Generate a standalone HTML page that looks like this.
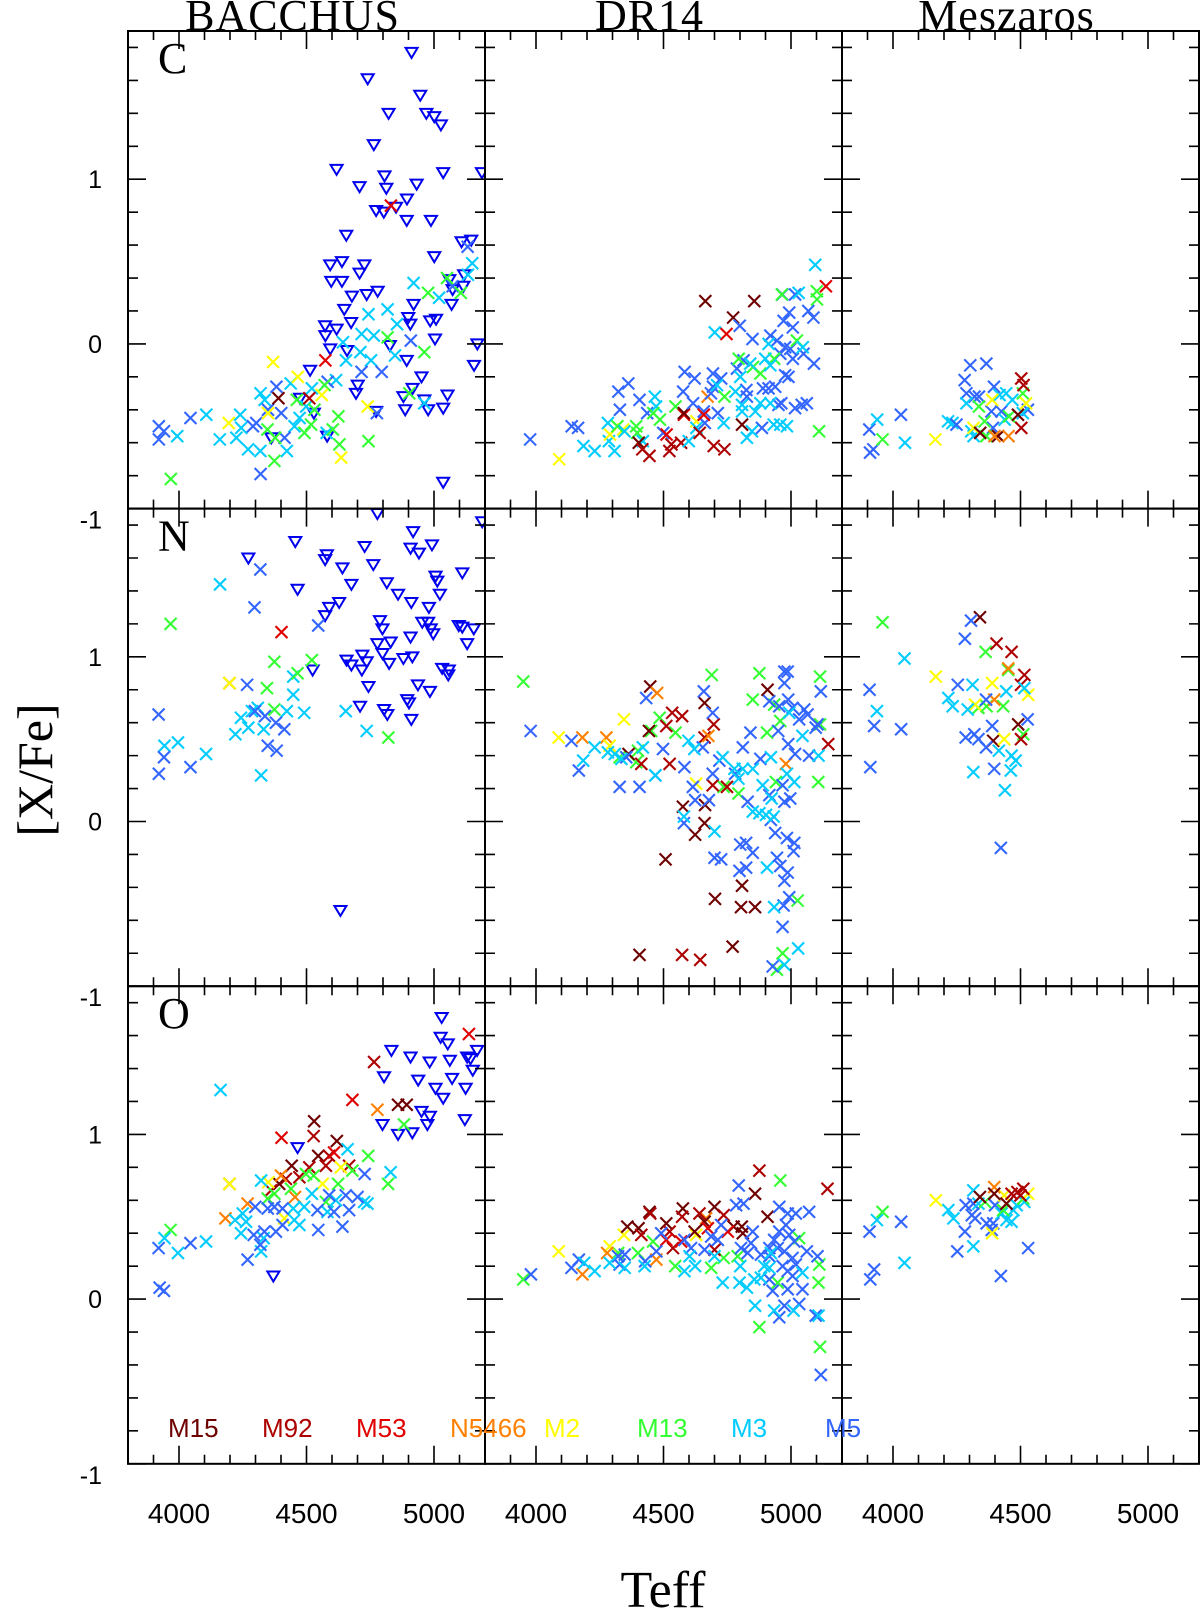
<!DOCTYPE html>
<html><head><meta charset="utf-8"><style>
html,body{margin:0;padding:0;background:#fff;}
svg{display:block;}
</style></head><body>
<svg id="fig" width="1200" height="1610" viewBox="0 0 1200 1610" xmlns="http://www.w3.org/2000/svg"></svg>
<script>
// ---- data (Teff, [X/Fe], cluster) ----
const clusters = ['M15','M92','M53','N5466','M2','M13','M3','M5'];
const clusterColors = ['#6e0000','#ad0000','#e00000','#ff8000','#ffff00','#33ff33','#00ccff','#3366ff'];
const xTicks = [4000,4500,5000];
const yTicks = [-1,0,1];
const rowNames = ['C','N','O'];
const colNames = ['BACCHUS','DR14','Meszaros'];

const limC_bac = [[4912,1.77],[4740,1.61],[4946,1.51],[4822,1.40],[4970,1.40],[5001,1.38],[5027,1.33],[4764,1.21],[4618,1.06],[5036,1.04],[4708,0.955],[4806,1.02],[4813,0.945],[4932,0.97],[4894,0.88],[4851,0.83],[4773,0.81],[4803,0.80],[4893,0.75],[4988,0.75],[4656,0.66],[5108,0.62],[5146,0.63],[5001,0.53],[4593,0.48],[4639,0.50],[4727,0.48],[4708,0.43],[4597,0.38],[4639,0.38],[4678,0.29],[4736,0.30],[4779,0.32],[5060,0.39],[5118,0.42],[5073,0.33],[5115,0.35],[5069,0.24],[4920,0.24],[4648,0.21],[4675,0.13],[4899,0.16],[4907,0.12],[4985,0.14],[5008,0.15],[4573,0.11],[4618,0.09],[4574,0.05],[5004,0.03],[4593,-0.03],[4659,-0.04],[4827,-0.01],[4893,-0.10],[4514,-0.16],[4951,-0.20],[4701,-0.25],[4916,-0.27],[4694,-0.30],[4880,-0.32],[5053,-0.31],[4962,-0.34],[4475,-0.33],[4887,-0.40],[4773,-0.41],[4977,-0.40],[5036,-0.39],[4529,-0.42],[4362,-0.57],[4581,-0.56],[5036,-0.84],[5157,-0.13],[5188,1.04],[5170,0.0]];
const ptsC_bac = [[4920,0.37,'M3'],[4743,0.18,'M3'],[4818,0.21,'M3'],[4855,0.12,'M3'],[4716,0.06,'M3'],[4764,0.05,'M3'],[4711,-0.05,'M3'],[4753,-0.10,'M3'],[4847,-0.07,'M3'],[4655,-0.10,'M3'],[4616,-0.22,'M3'],[4521,-0.27,'M3'],[4438,-0.24,'M3'],[4320,-0.30,'M3'],[4336,-0.34,'M3'],[4107,-0.43,'M3'],[4240,-0.43,'M3'],[4160,-0.58,'M3'],[3993,-0.56,'M3'],[4225,-0.57,'M3'],[4271,-0.64,'M3'],[4319,-0.65,'M3'],[4423,-0.65,'M3'],[4453,-0.50,'M3'],[4473,-0.45,'M3'],[4499,-0.38,'M3'],[4579,-0.54,'M3'],[5020,0.28,'M3'],[4643,0.01,'M3'],[4962,-0.36,'M3'],[4244,-0.51,'M3'],[5150,0.49,'M3'],[5133,0.42,'M3'],
[3921,-0.50,'M5'],[3941,-0.53,'M5'],[3921,-0.58,'M5'],[4045,-0.45,'M5'],[4382,-0.26,'M5'],[4349,-0.40,'M5'],[4401,-0.42,'M5'],[4290,-0.50,'M5'],[4303,-0.48,'M5'],[4414,-0.57,'M5'],[4320,-0.79,'M5'],[4583,-0.23,'M5'],[4716,-0.17,'M5'],[4795,-0.17,'M5'],[4909,0.02,'M5'],[5132,0.59,'M5'],[5073,0.35,'M5'],[4776,-0.42,'M5'],
[3968,-0.82,'M13'],[4374,-0.71,'M13'],[4377,-0.57,'M13'],[4492,-0.54,'M13'],[4518,-0.49,'M13'],[4531,-0.40,'M13'],[4462,-0.34,'M13'],[4571,-0.25,'M13'],[4625,-0.44,'M13'],[4629,-0.61,'M13'],[4603,-0.52,'M13'],[4743,-0.59,'M13'],[4818,0.04,'M13'],[4962,-0.05,'M13'],[4977,0.31,'M13'],[5105,0.31,'M13'],[4903,-0.30,'M13'],[4347,-0.52,'M13'],[5051,0.40,'M13'],
[4369,-0.11,'M2'],[4466,-0.20,'M2'],[4560,-0.31,'M2'],[4195,-0.48,'M2'],[4349,-0.42,'M2'],[4740,-0.38,'M2'],[4636,-0.69,'M2'],
[4390,-0.33,'M15'],[4511,-0.33,'M92'],[4574,-0.10,'M53'],[4831,0.84,'M53']];

const ptsC_dr = [[3977,-0.58,'M5'],[4091,-0.70,'M2'],[4140,-0.50,'M5'],[4165,-0.51,'M5'],[4186,-0.62,'M3'],[4230,-0.65,'M3'],[4282,-0.48,'M3'],[4286,-0.59,'M3'],[4308,-0.65,'M3'],[4290,-0.55,'M2'],[4342,-0.52,'M2'],[4319,-0.50,'M13'],[4393,-0.50,'M13'],[4397,-0.54,'M13'],[4347,-0.53,'M3'],[4323,-0.29,'M5'],[4362,-0.24,'M5'],[4329,-0.40,'M5'],[4406,-0.34,'M5'],[4436,-0.42,'M5'],[4419,-0.59,'M3'],[4466,-0.32,'M3'],[4471,-0.38,'M3'],[4403,-0.60,'M15'],[4417,-0.64,'M92'],[4445,-0.68,'M92'],[4460,-0.42,'M13'],[4486,-0.46,'M13'],[4547,-0.38,'M13'],[4499,-0.54,'M5'],[4512,-0.55,'M53'],[4531,-0.61,'M92'],[4523,-0.65,'M92'],[4569,-0.60,'M92'],[4580,-0.43,'M53'],[4580,-0.42,'M15'],[4599,-0.59,'M3'],[4583,-0.17,'M5'],[4622,-0.21,'M5'],[4577,-0.29,'M5'],[4616,-0.36,'M5'],[4629,-0.47,'M2'],[4629,-0.51,'M3'],[4642,-0.54,'M92'],[4662,-0.48,'M5'],[4658,-0.41,'M5'],[4658,-0.43,'M53'],[4673,-0.32,'N5466'],[4686,-0.30,'M5'],[4694,-0.18,'M5'],[4726,-0.21,'M5'],[4694,-0.26,'M5'],[4713,-0.42,'M5'],[4739,-0.32,'M13'],[4710,-0.25,'M3'],[4736,-0.48,'M3'],[4697,-0.62,'M92'],[4739,-0.64,'M92'],[4664,0.26,'M15'],[4856,0.26,'M15'],[4773,0.16,'M15'],[4808,-0.49,'M15'],[4747,0.06,'M53'],[4701,0.07,'M3'],[4799,0.11,'M5'],[4849,0.03,'M5'],
[4966,0.30,'M5'],[5016,0.30,'M5'],[5030,0.31,'M3'],[4993,0.19,'M5'],[4971,0.14,'M5'],[5007,0.10,'M5'],[4919,0.05,'M5'],[4945,0.02,'M5'],[4977,-0.02,'M5'],[4997,-0.03,'M5'],[4958,-0.06,'M5'],[5007,-0.09,'M5'],[5049,-0.06,'M5'],[5068,0.20,'M5'],[5088,0.16,'M5'],[4788,-0.15,'M5'],[4814,-0.10,'M5'],[4827,-0.32,'M5'],[4825,-0.28,'M5'],[4890,-0.27,'M5'],[4912,-0.27,'M5'],[4938,-0.26,'M5'],[4977,-0.19,'M5'],[4990,-0.20,'M5'],[4962,-0.36,'M5'],[4951,-0.37,'M5'],[5016,-0.39,'M5'],[5042,-0.37,'M5'],[5062,-0.36,'M5'],[4886,-0.51,'M5'],[5090,-0.12,'M5'],
[4964,0.30,'M13'],[5023,0.02,'M13'],[4795,-0.09,'M13'],[4851,-0.14,'M13'],[4880,-0.18,'M13'],[4934,-0.09,'M13'],[5101,0.32,'M13'],[5102,0.27,'M13'],[5110,-0.53,'M13'],
[4912,0.00,'M3'],[4899,-0.09,'M3'],[4840,-0.12,'M3'],[4801,-0.20,'M3'],[4782,-0.29,'M3'],[4808,-0.37,'M3'],[4808,-0.41,'M3'],[4860,-0.41,'M3'],[4880,-0.36,'M3'],[4919,-0.36,'M3'],[4932,-0.49,'M3'],[4958,-0.49,'M3'],[4984,-0.50,'M3'],[4847,-0.53,'M3'],[4827,-0.57,'M3'],[5095,0.48,'M3'],[5046,-0.02,'M3'],[4919,-0.13,'M3'],[5137,0.35,'M53']];

const ptsC_mes = [[3907,-0.52,'M5'],[3910,-0.66,'M5'],[3923,-0.64,'M5'],[3938,-0.46,'M3'],[4047,-0.60,'M3'],[3959,-0.58,'M13'],[4031,-0.43,'M5'],[4166,-0.58,'M2'],[4216,-0.47,'M3'],[4233,-0.48,'M3'],[4249,-0.49,'M5'],[4303,-0.13,'M5'],[4366,-0.12,'M5'],[4281,-0.22,'M5'],[4288,-0.30,'M5'],[4320,-0.32,'M5'],[4337,-0.32,'M5'],[4396,-0.26,'M5'],[4386,-0.41,'M5'],[4425,-0.41,'M5'],[4392,-0.51,'M5'],[4529,-0.40,'M5'],[4288,-0.36,'M3'],[4307,-0.53,'M3'],[4316,-0.56,'M3'],[4418,-0.31,'M3'],[4444,-0.30,'M3'],[4468,-0.34,'M3'],[4438,-0.46,'M3'],[4509,-0.42,'M3'],[4337,-0.38,'M13'],[4359,-0.47,'M13'],[4366,-0.56,'M13'],[4509,-0.30,'M13'],[4455,-0.44,'M13'],[4389,-0.34,'M2'],[4522,-0.36,'M2'],[4316,-0.51,'M2'],[4342,-0.54,'M15'],[4412,-0.56,'M15'],[4490,-0.43,'M15'],[4503,-0.21,'M92'],[4503,-0.51,'M92'],[4512,-0.25,'M92'],[4398,-0.56,'N5466'],[4453,-0.56,'N5466']];

const limN_bac = [[4778,1.87],[5189,1.82],[4918,1.76],[4456,1.70],[4728,1.67],[4908,1.66],[4941,1.63],[4992,1.68],[4272,1.60],[4580,1.62],[4573,1.59],[4641,1.54],[4762,1.56],[5111,1.51],[5006,1.49],[5013,1.46],[4465,1.41],[4676,1.44],[4815,1.45],[4859,1.38],[5023,1.38],[4911,1.33],[4628,1.33],[4589,1.30],[4980,1.30],[4573,1.25],[4788,1.22],[4798,1.17],[4954,1.21],[4977,1.21],[4987,1.17],[4997,1.14],[5097,1.19],[5111,1.18],[5156,1.17],[5130,1.08],[4778,1.08],[4830,1.09],[4908,1.12],[4657,0.98],[4676,0.95],[4719,1.01],[4736,0.97],[4717,0.92],[4798,1.02],[4824,0.96],[4880,0.99],[4915,1.00],[4524,0.92],[5032,0.93],[5058,0.92],[5056,0.89],[4937,0.83],[4984,0.79],[4743,0.82],[4895,0.74],[4902,0.72],[4710,0.70],[4804,0.68],[4817,0.65],[4911,0.62],[4633,-0.54]];
const ptsN_bac = [[4161,1.44,'M3'],[4448,0.88,'M3'],[4448,0.77,'M3'],[4491,0.66,'M3'],[4423,0.67,'M3'],[4243,0.63,'M3'],[4272,0.57,'M3'],[4309,0.69,'M3'],[4332,0.56,'M3'],[4221,0.53,'M3'],[4654,0.67,'M3'],[4736,0.55,'M3'],[3943,0.46,'M3'],[3996,0.48,'M3'],[4106,0.41,'M3'],[4322,0.28,'M3'],[4286,0.67,'M3'],
[4319,1.53,'M5'],[4296,1.30,'M5'],[4546,1.19,'M5'],[4267,0.83,'M5'],[3920,0.65,'M5'],[4337,0.64,'M5'],[4380,0.60,'M5'],[4413,0.56,'M5'],[4348,0.46,'M5'],[4383,0.43,'M5'],[3941,0.39,'M5'],[3921,0.29,'M5'],[4045,0.33,'M5'],[4298,0.67,'M5'],
[3967,1.20,'M13'],[4374,0.97,'M13'],[4521,0.98,'M13'],[4465,0.90,'M13'],[4345,0.81,'M13'],[4374,0.68,'M13'],[4821,0.51,'M13'],
[4402,1.15,'M53'],[4198,0.84,'M92'],[4198,0.84,'M2']];

const ptsN_dr = [[3950,0.85,'M13'],[4689,0.89,'M13'],[4876,0.90,'M13'],[5114,0.88,'M13'],[4485,0.63,'M13'],[4452,0.55,'M13'],[4547,0.54,'M13'],[4400,0.43,'M13'],[4393,0.36,'M13'],[4850,0.74,'M13'],[4906,0.54,'M13'],[4958,0.61,'M13'],[5114,0.59,'M13'],[5107,0.24,'M13'],[4736,0.21,'M13'],[4794,0.17,'M13'],[4941,0.24,'M13'],[5026,-0.48,'M13'],[4967,-0.80,'M13'],[4945,-0.90,'M13'],[4934,0.71,'M13'],[4328,0.39,'M13'],
[4448,0.82,'M15'],[4661,0.72,'M15'],[4908,0.80,'M15'],[4443,0.55,'M15'],[4363,0.41,'M15'],[4576,0.09,'M15'],[4663,0.10,'M15'],[4661,-0.01,'M15'],[4624,-0.08,'M15'],[4508,-0.23,'M15'],[4808,-0.39,'M15'],[4702,-0.47,'M15'],[4804,-0.52,'M15'],[4859,-0.52,'M15'],[4771,-0.76,'M15'],[4406,-0.81,'M15'],[5146,0.47,'M92'],
[4534,0.66,'M92'],[4573,0.64,'M92'],[4511,0.58,'M92'],[4697,0.59,'M92'],[4661,0.51,'M92'],[4413,0.35,'M92'],[4524,0.35,'M92'],[4693,0.22,'M92'],[4749,0.21,'M92'],[4573,-0.81,'M92'],[4644,-0.84,'M92'],
[4475,0.78,'N5466'],[4182,0.51,'N5466'],[4276,0.51,'N5466'],[4676,0.52,'N5466'],[4980,0.35,'N5466'],
[4345,0.62,'M2'],[4089,0.51,'M2'],[4289,0.46,'M2'],[4628,0.23,'M2'],
[3979,0.55,'M5'],[4139,0.49,'M5'],[4168,0.31,'M5'],[4328,0.21,'M5'],[4406,0.21,'M5'],[4432,0.75,'M5'],[4498,0.44,'M5'],[4354,0.39,'M5'],[4468,0.28,'M5'],[4582,0.33,'M5'],[4658,0.79,'M5'],[4693,0.66,'M5'],[4654,0.45,'M5'],[4719,0.37,'M5'],[4693,0.29,'M5'],[4615,0.21,'M5'],[4624,0.13,'M5'],[4678,0.13,'M5'],[4580,-0.01,'M5'],[4811,0.45,'M5'],[4841,0.54,'M5'],[4880,0.38,'M5'],[4781,0.29,'M5'],[4830,0.12,'M5'],[4915,0.16,'M5'],[4967,0.22,'M5'],[4974,0.12,'M5'],[4997,0.14,'M5'],[4921,0.01,'M5'],[4938,-0.07,'M5'],[4984,-0.10,'M5'],[5013,-0.13,'M5'],[5010,-0.18,'M5'],[4801,-0.14,'M5'],[4824,-0.13,'M5'],[4850,-0.19,'M5'],[4700,-0.22,'M5'],[4726,-0.23,'M5'],[4798,-0.30,'M5'],[4824,-0.28,'M5'],[4945,-0.22,'M5'],[4958,-0.27,'M5'],[4987,-0.31,'M5'],[4974,-0.36,'M5'],[4993,-0.46,'M5'],[4971,-0.51,'M5'],[4967,-0.64,'M5'],[4928,-0.88,'M5'],[4974,0.91,'M5'],[4987,0.91,'M5'],[4974,0.84,'M5'],[4915,0.73,'M5'],[4954,0.70,'M5'],[4989,0.74,'M5'],[5006,0.69,'M5'],[5052,0.68,'M5'],[5032,0.62,'M5'],[5065,0.65,'M5'],[4950,0.55,'M5'],[4989,0.47,'M5'],[5016,0.41,'M5'],[5071,0.40,'M5'],[5097,0.57,'M5'],[5117,0.79,'M5'],[5104,0.59,'M5'],
[4598,0.49,'M3'],[4621,0.44,'M3'],[4419,0.45,'M3'],[4230,0.45,'M3'],[4185,0.37,'M3'],[4282,0.42,'M3'],[4309,0.41,'M3'],[4335,0.38,'M3'],[4468,0.28,'M3'],[4732,0.39,'M3'],[4778,0.32,'M3'],[4811,0.32,'M3'],[4850,0.32,'M3'],[4794,0.26,'M3'],[4889,0.22,'M3'],[4921,0.39,'M3'],[4924,0.14,'M3'],[4850,0.06,'M3'],[4876,0.05,'M3'],[4902,0.04,'M3'],[4932,0.03,'M3'],[4580,0.03,'M3'],[4700,-0.06,'M3'],[5045,0.52,'M3'],[5108,0.40,'M3'],[5013,0.24,'M3'],[4984,0.29,'M3'],[4993,0.66,'M3'],[4906,-0.28,'M3'],[4934,-0.52,'M3'],[5028,-0.77,'M3'],[4974,-0.87,'M3']];

const ptsN_mes = [[3959,1.21,'M13'],[4363,1.03,'M13'],[4452,0.92,'M13'],[4335,0.69,'M13'],[4367,0.70,'M13'],[4432,0.70,'M13'],[4511,0.53,'M13'],[4341,1.24,'M15'],[4491,0.59,'M15'],[4393,0.49,'M15'],[4406,1.08,'M92'],[4465,1.03,'M92'],[4515,0.89,'M92'],[4502,0.83,'M92'],[4502,0.50,'M92'],[4452,0.93,'N5466'],[4397,0.74,'N5466'],[4168,0.88,'M2'],[4389,0.84,'M2'],[4530,0.77,'M2'],[4322,0.71,'M2'],[4436,0.50,'M2'],
[4306,1.22,'M5'],[4282,1.11,'M5'],[3908,0.80,'M5'],[3926,0.58,'M5'],[4032,0.56,'M5'],[3911,0.33,'M5'],[4254,0.83,'M5'],[4365,0.74,'M5'],[4389,0.58,'M5'],[4285,0.51,'M5'],[4319,0.53,'M5'],[4335,0.50,'M5'],[4365,0.45,'M5'],[4528,0.62,'M5'],[4397,0.32,'M5'],[4423,-0.16,'M5'],
[4045,0.99,'M3'],[3937,0.67,'M3'],[4217,0.75,'M3'],[4234,0.70,'M3'],[4293,0.68,'M3'],[4312,0.83,'M3'],[4444,0.79,'M3'],[4515,0.81,'M3'],[4415,0.43,'M3'],[4465,0.40,'M3'],[4481,0.37,'M3'],[4462,0.31,'M3'],[4315,0.30,'M3'],[4439,0.19,'M3']];

const limO_bac = [[5030,1.71],[5026,1.59],[5054,1.55],[4833,1.51],[4908,1.47],[4983,1.44],[5062,1.45],[5130,1.47],[5143,1.46],[5169,1.51],[5152,1.39],[4804,1.35],[4938,1.33],[5071,1.34],[5006,1.28],[5124,1.28],[5036,1.22],[4951,1.14],[4984,1.11],[4974,1.06],[5121,1.09],[4798,1.06],[4859,1.00],[4915,1.01],[4465,0.92],[4370,0.14]];
const ptsO_bac = [[5137,1.61,'M53'],[4680,1.21,'M53'],[4402,0.98,'M53'],[4765,1.44,'M92'],[4859,1.18,'M15'],[4893,1.18,'M15'],[4530,1.08,'M15'],[4528,0.99,'M92'],[4619,0.96,'M15'],[4546,0.87,'M15'],[4589,0.87,'M92'],[4608,0.89,'M53'],[4442,0.81,'M15'],[4511,0.80,'M92'],[4576,0.81,'M92'],[4667,0.81,'M92'],[4419,0.73,'M92'],[4393,0.70,'M15'],[4361,0.66,'M92'],[4198,0.70,'M92'],[4472,0.74,'M92'],
[4778,1.15,'N5466'],[4400,0.75,'N5466'],[4269,0.58,'N5466'],[4182,0.49,'N5466'],[4455,0.62,'N5466'],
[4198,0.70,'M2'],[4350,0.71,'M2'],[4563,0.70,'M2'],[4635,0.80,'M2'],[4413,0.49,'M2'],
[3967,0.42,'M13'],[4742,0.87,'M13'],[4820,0.70,'M13'],[4882,1.06,'M13'],[4680,0.78,'M13'],[4624,0.70,'M13'],[4528,0.75,'M13'],[4439,0.67,'M13'],[4348,0.61,'M13'],[4374,0.64,'M13'],[4576,0.59,'M13'],[4498,0.76,'M13'],
[4163,1.27,'M3'],[4661,0.91,'M3'],[4830,0.77,'M3'],[4726,0.59,'M3'],[4739,0.58,'M3'],[4322,0.72,'M3'],[4521,0.64,'M3'],[3943,0.37,'M3'],[3996,0.28,'M3'],[4106,0.35,'M3'],[4220,0.48,'M3'],[4250,0.52,'M3'],[4243,0.40,'M3'],[4263,0.47,'M3'],[4322,0.29,'M3'],[4332,0.37,'M3'],[4448,0.55,'M3'],[4472,0.45,'M3'],[4452,0.48,'M3'],[4491,0.56,'M3'],[4582,0.53,'M3'],[4615,0.60,'M3'],
[3920,0.31,'M5'],[3924,0.07,'M5'],[3941,0.05,'M5'],[4045,0.34,'M5'],[4269,0.24,'M5'],[4293,0.39,'M5'],[4319,0.33,'M5'],[4335,0.41,'M5'],[4380,0.41,'M5'],[4406,0.45,'M5'],[4299,0.56,'M5'],[4348,0.55,'M5'],[4374,0.56,'M5'],[4406,0.55,'M5'],[4546,0.42,'M5'],[4543,0.54,'M5'],[4608,0.53,'M5'],[4641,0.44,'M5'],[4667,0.54,'M5'],[4654,0.63,'M5'],[4700,0.62,'M5'],[4728,0.76,'M5'],[4589,0.63,'M5']];

const ptsO_dr = [[3950,0.12,'M13'],[4459,0.35,'M13'],[4322,0.28,'M13'],[4400,0.28,'M13'],[4546,0.20,'M13'],[4687,0.19,'M13'],[4736,0.25,'M13'],[4791,0.26,'M13'],[4958,0.72,'M13'],[5032,0.37,'M13'],[4948,0.10,'M13'],[5111,0.21,'M13'],[5108,0.10,'M13'],[4876,-0.17,'M13'],[5114,-0.29,'M13'],
[4089,0.29,'M2'],[4289,0.32,'M2'],[4345,0.39,'M2'],[4628,0.39,'M2'],
[4182,0.15,'N5466'],[4279,0.28,'N5466'],[4472,0.24,'N5466'],[4667,0.49,'N5466'],
[4358,0.44,'M15'],[4402,0.43,'M15'],[4445,0.53,'M15'],[4511,0.46,'M15'],[4576,0.55,'M15'],[4700,0.56,'M15'],[4775,0.44,'M15'],[4807,0.44,'M15'],[4811,0.40,'M15'],[4859,0.64,'M15'],[4908,0.50,'M15'],[4661,0.47,'M15'],[4622,0.41,'M15'],
[4448,0.52,'M92'],[4413,0.39,'M92'],[4573,0.50,'M92'],[4641,0.52,'M92'],[4736,0.51,'M92'],[4524,0.41,'M92'],[4537,0.31,'M92'],[4700,0.30,'M92'],[4876,0.78,'M92'],[5143,0.67,'M92'],
[4674,0.43,'M53'],[4752,0.41,'M53'],[4511,0.36,'M53'],[4569,0.35,'M53'],
[3980,0.15,'M5'],[4139,0.19,'M5'],[4168,0.24,'M5'],[4322,0.26,'M5'],[4348,0.27,'M5'],[4328,0.21,'M5'],[4428,0.23,'M5'],[4472,0.29,'M5'],[4491,0.40,'M5'],[4582,0.36,'M5'],[4608,0.31,'M5'],[4661,0.30,'M5'],[4687,0.38,'M5'],[4713,0.36,'M5'],[4726,0.45,'M5'],[4795,0.69,'M5'],[4785,0.57,'M5'],[4814,0.58,'M5'],[4954,0.56,'M5'],[4987,0.52,'M5'],[5019,0.52,'M5'],[5071,0.53,'M5'],[4804,0.31,'M5'],[4843,0.34,'M5'],[4830,0.28,'M5'],[4850,0.41,'M5'],[4882,0.27,'M5'],[4915,0.26,'M5'],[4934,0.36,'M5'],[4954,0.41,'M5'],[4980,0.45,'M5'],[4993,0.39,'M5'],[5013,0.35,'M5'],[4974,0.29,'M5'],[5006,0.25,'M5'],[5019,0.21,'M5'],[4967,0.20,'M5'],[4987,0.17,'M5'],[5006,0.14,'M5'],[4915,0.12,'M5'],[4928,0.05,'M5'],[4987,0.06,'M5'],[5045,0.06,'M5'],[5062,0.29,'M5'],[5104,0.26,'M5'],[5032,-0.03,'M5'],[4974,-0.04,'M5'],[4954,-0.11,'M5'],[5097,-0.10,'M5'],[5117,-0.46,'M5'],[4915,0.31,'M5'],[4948,0.31,'M5'],
[4189,0.22,'M3'],[4230,0.17,'M3'],[4289,0.22,'M3'],[4348,0.19,'M3'],[4426,0.20,'M3'],[4582,0.17,'M3'],[4624,0.20,'M3'],[4602,0.26,'M3'],[4700,0.26,'M3'],[4732,0.10,'M3'],[4801,0.20,'M3'],[4798,0.10,'M3'],[4827,0.07,'M3'],[4856,0.12,'M3'],[4882,0.13,'M3'],[4895,0.20,'M3'],[4921,0.28,'M3'],[4859,-0.04,'M3'],[4934,-0.07,'M3'],[5010,-0.07,'M3'],[5045,0.16,'M3'],[5108,-0.10,'M3'],[4915,0.19,'M3']];

const ptsO_mes = [[3908,0.41,'M5'],[3911,0.12,'M5'],[3926,0.18,'M5'],[4032,0.47,'M5'],[4252,0.29,'M5'],[4282,0.41,'M5'],[4285,0.57,'M5'],[4309,0.51,'M5'],[4322,0.49,'M5'],[4367,0.46,'M5'],[4393,0.46,'M5'],[4400,0.57,'M5'],[4423,0.14,'M5'],[4530,0.31,'M5'],[4315,0.58,'M5'],[4387,0.42,'M5'],
[3937,0.48,'M3'],[4045,0.22,'M3'],[4217,0.54,'M3'],[4237,0.49,'M3'],[4315,0.66,'M3'],[4315,0.32,'M3'],[4426,0.52,'M3'],[4445,0.48,'M3'],[4465,0.47,'M3'],[4472,0.54,'M3'],[4485,0.57,'M3'],[4515,0.59,'M3'],[4335,0.58,'M3'],
[3959,0.53,'M13'],[4361,0.59,'M13'],[4432,0.54,'M13'],[4511,0.61,'M13'],
[4168,0.60,'M2'],[4436,0.63,'M2'],[4389,0.40,'M2'],[4530,0.64,'M2'],
[4397,0.68,'N5466'],[4341,0.62,'M15'],[4397,0.64,'M15'],[4445,0.58,'M15'],
[4465,0.64,'M92'],[4488,0.65,'M92'],[4511,0.67,'M92'],[4500,0.63,'M92']];

// ---- layout ----
const NS = 'http://www.w3.org/2000/svg';
const svg = document.getElementById('fig');
const colX = [128, 485, 842];
const rowY = [31, 508.6, 986.2];
const PW = 357, PH = 477.6;
const XMIN = 3800, XMAX = 5200, YMIN = -1, YMAX = 1.9;
function xs(c, t) { return colX[c] + (t - XMIN) / (XMAX - XMIN) * PW; }
function ys(r, v) { return rowY[r] + (YMAX - v) / (YMAX - YMIN) * PH; }
function mk(tag, attrs, parent) {
  const e = document.createElementNS(NS, tag);
  for (const k in attrs) e.setAttribute(k, attrs[k]);
  (parent || svg).appendChild(e);
  return e;
}

const panels = [
  [0,0,ptsC_bac,limC_bac],[0,1,ptsC_dr,[]],[0,2,ptsC_mes,[]],
  [1,0,ptsN_bac,limN_bac],[1,1,ptsN_dr,[]],[1,2,ptsN_mes,[]],
  [2,0,ptsO_bac,limO_bac],[2,1,ptsO_dr,[]],[2,2,ptsO_mes,[]]
];

const defs = mk('defs', {});
panels.forEach(([r, c, pts, lims]) => {
  const cp = mk('clipPath', {id: 'cp' + r + c}, defs);
  mk('rect', {x: colX[c], y: rowY[r], width: PW, height: PH}, cp);
  const g = mk('g', {'clip-path': 'url(#cp' + r + c + ')'});
  
  
  lims.forEach(([t, v]) => {
    const x = xs(c, t), y = ys(r, v);
    const tri = mk('polygon', {points: (x-6)+','+(y-4.5)+' '+(x+6)+','+(y-4.5)+' '+x+','+(y+5.5), fill: 'none', stroke: '#0000ee', 'stroke-width': 2}, g);
    
    
  });
  pts.forEach(([t, v, cl]) => {
    const x = xs(c, t), y = ys(r, v);
    const col = clusterColors[clusters.indexOf(cl)];
    const p = mk('path', {d: 'M'+(x-6)+','+(y-6)+'L'+(x+6)+','+(y+6)+'M'+(x-6)+','+(y+6)+'L'+(x+6)+','+(y-6), stroke: col, 'stroke-width': 2.1, fill: 'none'}, g);
    
    
  });
});

// frames and ticks
const axg = mk('g', {stroke: '#000', 'stroke-width': 2, fill: 'none'});


for (let r = 0; r < 3; r++) for (let c = 0; c < 3; c++) {
  mk('rect', {x: colX[c], y: rowY[r], width: PW, height: PH}, axg);
  let d = '';
  for (let t = 3800; t <= 5200; t += 100) {
    const x = xs(c, t), L = (t % 500 === 0) ? 18 : 9;
    d += 'M'+x+','+(rowY[r]+PH)+'v'+(-L)+'M'+x+','+rowY[r]+'v'+L;
  }
  for (let k = -5; k <= 9; k++) {
    const v = k * 0.2, y = ys(r, v), L = (k % 5 === 0) ? 18 : 10;
    d += 'M'+colX[c]+','+y+'h'+L+'M'+(colX[c]+PW)+','+y+'h'+(-L);
  }
  mk('path', {d: d, 'stroke-width': 1.6}, axg);
}

function txt(s, attrs, name) {
  const e = mk('text', attrs);
  e.textContent = s;
  
  
  return e;
}
const SANS = '"Liberation Sans", sans-serif', SERIF = '"Liberation Serif", serif';
for (let c = 0; c < 3; c++) xTicks.forEach(t => {
  txt(String(t), {x: xs(c, t), y: 1523, 'font-family': SANS, 'font-size': 28, 'text-anchor': 'middle'}, 'x-tick-label');
});
for (let r = 0; r < 3; r++) yTicks.forEach(v => {
  const y = v === -1 ? ys(r, v) + 20 : ys(r, v) + 9;
  txt(String(v), {x: 102, y: y, 'font-family': SANS, 'font-size': 25, 'text-anchor': 'end'}, 'y-tick-label');
});
colNames.forEach((n, c) => {
  txt(n, {x: colX[c] + PW/2 - 14, y: 30, 'font-family': SERIF, 'font-size': 44, 'text-anchor': 'middle', 'letter-spacing': 1}, 'column-title');
});
rowNames.forEach((n, r) => {
  txt(n, {x: 158, y: rowY[r] + 42, 'font-family': SERIF, 'font-size': 44}, 'element-label');
});
txt('Teff', {x: 663, y: 1607, 'font-family': SERIF, 'font-size': 52, 'text-anchor': 'middle'}, 'x-axis-title');
txt('[X/Fe]', {x: 0, y: 0, 'font-family': SERIF, 'font-size': 50, 'text-anchor': 'middle', transform: 'translate(52,770) rotate(-90)'}, 'y-axis-title');
const legendX = [168, 262, 356, 450, 544, 637, 731, 825];
clusters.forEach((n, i) => {
  txt(n, {x: legendX[i], y: 1437, 'font-family': SANS, 'font-size': 26, fill: clusterColors[i]}, 'legend-entry-' + n.toLowerCase());
});
</script>
</body></html>
